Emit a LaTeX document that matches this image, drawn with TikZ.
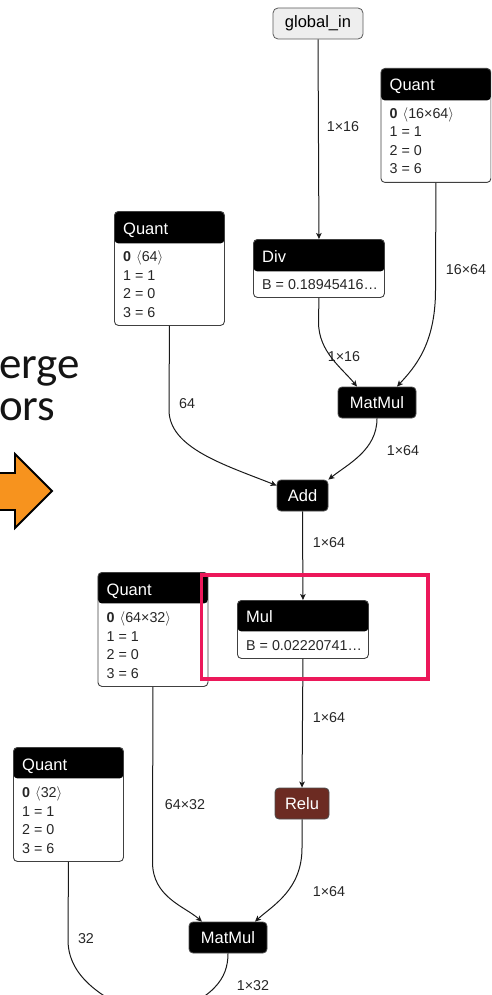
\documentclass[tikz,border=0pt]{standalone}
\usepackage{fontspec}
\setmainfont{Liberation Sans}
\newfontfamily\slidefont{Carlito}
\usetikzlibrary{arrows.meta,calc}

\definecolor{reluc}{RGB}{108,43,34}
\definecolor{inputfill}{RGB}{238,238,238}
\definecolor{markred}{RGB}{236,24,90}
\definecolor{arroworange}{RGB}{247,147,30}
\definecolor{slidetext}{RGB}{20,20,20}

\tikzset{
  edge/.style={draw=black!90, line width=1pt, -{Stealth[length=6pt,width=5.5pt,inset=1.5pt]}},
  opbox/.style={draw=black!75, fill=white, line width=0.9pt, rounded corners=4pt,
    inner sep=0pt, anchor=north west},
  hdr/.style={path picture={\fill[black] (path picture bounding box.north west) rectangle
    ($(path picture bounding box.north east)!#1pt!(path picture bounding box.south east)$);}},
  boxtitle/.style={anchor=base west, inner sep=0pt, text=white, font=\fontsize{16.5}{18}\selectfont},
  boxline/.style={anchor=base west, inner sep=0pt, text=black!85, font=\fontsize{14.3}{16}\selectfont},
  opnode/.style={fill=black, draw=black!70, line width=0.8pt, rounded corners=4pt, inner sep=0pt,
    text=white, font=\fontsize{16.5}{18}\selectfont, minimum height=31pt},
  shapelabel/.style={inner sep=0pt, text=black!85, font=\fontsize{14.3}{16}\selectfont},
}

% Quant operator box: name, x, y of the top-left corner, header height, tensor shape
\newcommand\quantbox[5]{%
  \node[opbox, hdr=#4, minimum width=110pt, minimum height=114pt] (#1) at (#2,#3) {};
  \node[boxtitle] (#1-title) at ($(#1.north west)+(9,23)$) {Quant};
  \node[boxline] (#1-l0) at ($(#1.north west)+(9,50.5)$) {\textbf{0}\hspace{5pt}$\langle$#5$\rangle$};
  \node[boxline] (#1-l1) at ($(#1.north west)+(9,69)$) {1 = 1};
  \node[boxline] (#1-l2) at ($(#1.north west)+(9,87.5)$) {2 = 0};
  \node[boxline] (#1-l3) at ($(#1.north west)+(9,106)$) {3 = 6};
}

\begin{document}
\begin{tikzpicture}[x=1pt,y=-1pt]
\useasboundingbox (0,0) rectangle (491,995);
\begin{scope}
\clip (0,0) rectangle (491,995);

% slide text and orange arrow on the left
\node[anchor=base west, inner sep=0pt, text=slidetext, font=\slidefont\fontsize{45}{45}\selectfont]
  (word1) at (-1,378) {erge};
\node[anchor=base west, inner sep=0pt, text=slidetext, font=\slidefont\fontsize{45}{45}\selectfont]
  (word2) at (-1,420) {ors};
\draw[fill=arroworange, draw=black, line width=1.8pt, line join=miter]
  (-5,473) -- (15,473) -- (15,454) -- (52,491) -- (15,528) -- (15,510) -- (-5,510) -- cycle;

% graph input
\node[fill=inputfill, draw=black!65, line width=0.8pt, rounded corners=5pt, inner sep=0pt,
  minimum width=90pt, minimum height=31pt, font=\fontsize{16.5}{18}\selectfont]
  (gin) at (318,23.5) {global\_in};

% parameter tensors
\quantbox{qa}{380.5}{68}{32}{16×64}
\quantbox{qb}{114}{211}{32}{64}
\quantbox{qc}{97.5}{572}{31}{64×32}
\quantbox{qd}{13}{747}{31}{32}

% Div
\node[opbox, hdr=32, minimum width=131pt, minimum height=58pt] (div) at (253,239) {};
\node[boxtitle] (div-title) at ($(div.north west)+(9,23)$) {Div};
\node[boxline] (div-b) at ($(div.north west)+(9,50)$) {B = 0.18945416…};

% Mul
\node[opbox, hdr=31, minimum width=131pt, minimum height=58pt] (mul) at (237,600) {};
\node[boxtitle] (mul-title) at ($(mul.north west)+(9,22)$) {Mul};
\node[boxline] (mul-b) at ($(mul.north west)+(9,50)$) {B = 0.02220741…};

% plain operators
\node[opnode, minimum width=78pt] (mm1) at (377,402.5) {MatMul};
\node[opnode, minimum width=51pt] (add) at (302.5,495.5) {Add};
\node[opnode, minimum width=54pt, fill=reluc] (relu) at (302,803.5) {Relu};
\node[opnode, minimum width=78pt] (mm2) at (228,937.5) {MatMul};
\coordinate (next) at (150,1020);

% connectors
\draw[edge] (gin.south) -- (div.north);
\draw[edge] (div.south) -- (318.5,322) .. controls (318.5,352) and (342,368) .. ($(mm1.north)+(-20,0)$);
\draw[edge] (qa.south) -- (435.5,290) .. controls (435.5,345) and (414,368) .. ($(mm1.north)+(20,0)$);
\draw[edge] (qb.south) -- (169,410) .. controls (169,448) and (225,465) .. ($(add.west)+(0,-10)$);
\draw[edge] (mm1.south) .. controls (377,450) and (348,464) .. (add.north east);
\draw[edge] (add.south) -- (mul.north);
\draw[edge] (mul.south) -- (relu.north);
\draw[edge] (qc.south) -- (152.5,862) .. controls (152.5,897) and (184,906) .. ($(mm2.north)+(-26,0)$);
\draw[edge] (relu.south) -- (302,848) .. controls (302,890) and (272,906) .. ($(mm2.north)+(27,0)$);
\draw[edge] (qd.south) -- (68,940) .. controls (68,985) and (120,1005) .. (next);
\draw[edge] (mm2.south) .. controls (228,978) and (215,1000) .. (next);

% tensor shape labels
\node[shapelabel] (s1) at (343,127) {1×16};
\node[shapelabel] (s2) at (466,270) {16×64};
\node[shapelabel] (s3) at (344,357) {1×16};
\node[shapelabel] (s4) at (187,404) {64};
\node[shapelabel] (s5) at (403,451) {1×64};
\node[shapelabel] (s6) at (329,543) {1×64};
\node[shapelabel] (s7) at (329,718) {1×64};
\node[shapelabel] (s8) at (185,805) {64×32};
\node[shapelabel] (s9) at (329,892) {1×64};
\node[shapelabel] (s10) at (86,939) {32};
\node[shapelabel] (s11) at (253,986) {1×32};

% highlight around Mul
\draw[markred, line width=3.5pt] (201.5,575) rectangle (428,679);
\end{scope}
\end{tikzpicture}
\end{document}
